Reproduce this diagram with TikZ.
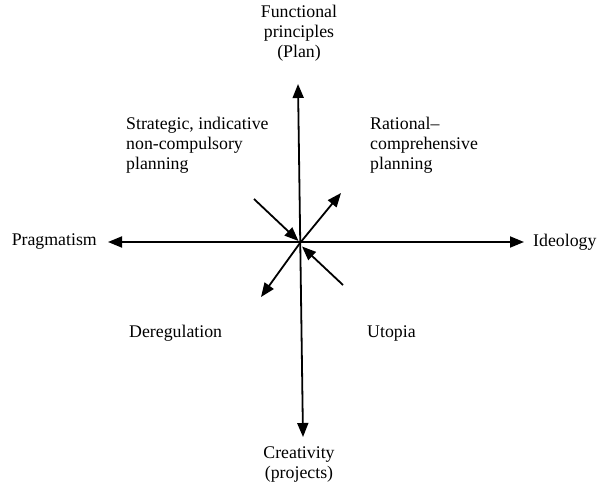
\documentclass[tikz,border=0pt]{standalone}
\usepackage{fontspec}
\setmainfont{Liberation Serif}
\usetikzlibrary{arrows.meta}
\begin{document}
\begin{tikzpicture}[x=1pt,y=-1pt,
  lbl/.style={inner sep=0pt,font=\fontsize{17.8}{20}\selectfont},
  axis/.style={line width=1.8pt,-{Triangle[length=14pt,width=11pt]}},
  axis2/.style={line width=1.8pt,{Triangle[length=14pt,width=11pt]}-{Triangle[length=14pt,width=11pt]}}]
\useasboundingbox (0,0) rectangle (602,487);
% coordinates
\coordinate (top) at (298,84);
\coordinate (bot) at (303,437);
\coordinate (lft) at (108,242);
\coordinate (rgt) at (524,242);
\coordinate (c) at (300,242);
\coordinate (nw) at (254,199);
\coordinate (nwt) at (298.5,241);
\coordinate (ne0) at (300,243);
\coordinate (ne) at (341,193);
\coordinate (se) at (343,285);
\coordinate (set) at (302,246.5);
\coordinate (sw) at (261,297);
% axes
\draw[axis2] (bot) -- (top);
\draw[axis2] (lft) -- (rgt);
% diagonals
\draw[axis] (nw) -- (nwt);
\draw[axis] (ne0) -- (ne);
\draw[axis] (se) -- (set);
\draw[axis] (ne0) -- (sw);
% labels
\node[lbl,align=center] (plan) at (299,33) {Functional\\principles\\(Plan)};
\node[lbl,align=center] (crea) at (299,464) {Creativity\\(projects)};
\node[lbl,anchor=east] (prag) at (97,242) {Pragmatism};
\node[lbl,anchor=west] (ideo) at (533,242) {Ideology};
\node[lbl,align=left,anchor=west] (strat) at (126,145) {Strategic, indicative\\non-compulsory\\planning};
\node[lbl,align=left,anchor=west] (rat) at (370,145) {Rational–\\comprehensive\\planning};
\node[lbl,anchor=west] (dereg) at (129,333) {Deregulation};
\node[lbl,anchor=west] (utop) at (367,333) {Utopia};
\end{tikzpicture}
\end{document}
